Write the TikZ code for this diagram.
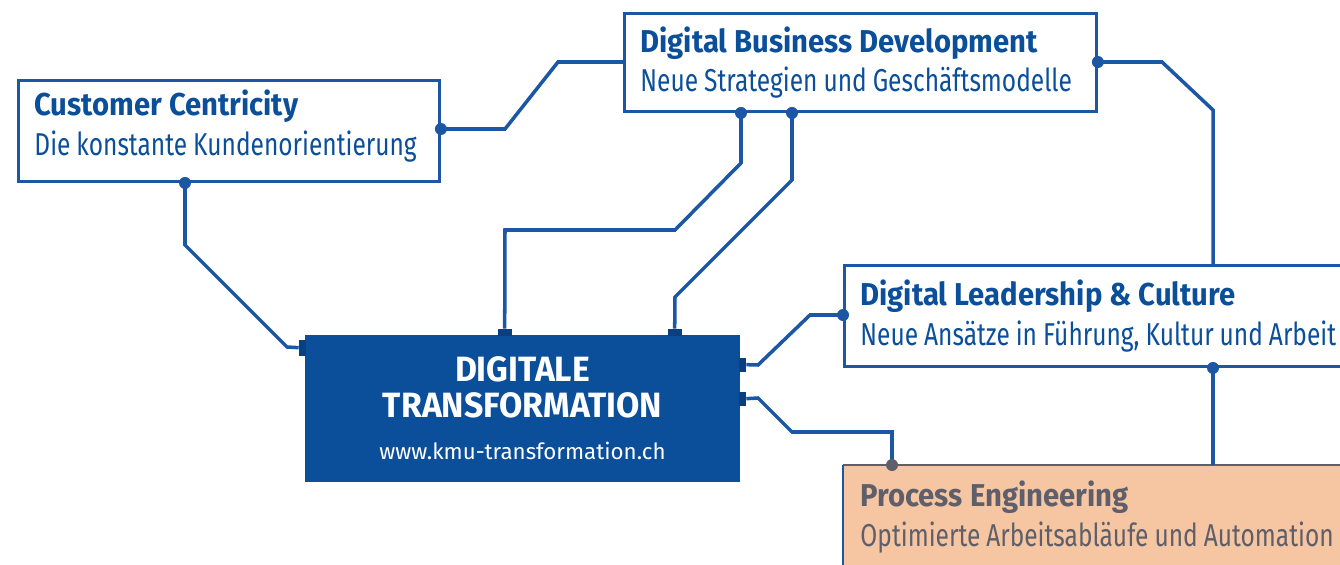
\documentclass[tikz,border=0pt]{standalone}
\usepackage{fontspec}
\setmainfont{Fira Sans}
\newfontfamily\headfont[FakeStretch=0.925]{Fira Sans}
\newfontfamily\subfont[FakeStretch=0.775]{Fira Sans}
\newfontfamily\corefont[FakeStretch=0.96]{Fira Sans}
\usetikzlibrary{calc,positioning}
\definecolor{kmublue}{HTML}{0B4F9A}
\definecolor{linkblue}{HTML}{1C57A5}
\definecolor{tabblue}{HTML}{0A3F80}
\definecolor{peach}{HTML}{F6C5A1}
\definecolor{slate}{HTML}{5E5F6B}
\newcommand{\cardhead}[1]{\mbox{\headfont\bfseries\spaceskip=4pt\relax #1}}
\newcommand{\cardsub}[1]{\mbox{\subfont\spaceskip=3.4pt\relax #1}}

\begin{document}
\begin{tikzpicture}[x=0.02cm,y=-0.02cm]
\tikzstyle{card}=[draw=linkblue, line width=1.7pt, fill=white, anchor=north west, align=left, inner xsep=0.32cm, inner ysep=0pt, text=kmublue, font=\fontsize{18}{22.7}\selectfont]
\tikzstyle{core}=[fill=kmublue, text=white, align=center, minimum width=8.7cm, minimum height=2.94cm, inner sep=0pt, font=\fontsize{20}{20.5}\selectfont]
\tikzstyle{link}=[draw=linkblue, line width=2pt]
\tikzstyle{dot}=[fill=linkblue]
\tikzstyle{tab}=[fill=tabblue]
\useasboundingbox (0,0) rectangle (1340,565);
\clip (0,0) rectangle (1340,565);
\node [card, minimum width=8.42cm, minimum height=2.02cm, text width=7.78cm] (cc) at (17,79)
  {\cardhead{Customer Centricity}\\\cardsub{Die konstante Kundenorientierung}\rule[-0.32cm]{0pt}{0.1cm}};
\node [card, minimum width=9.44cm, minimum height=1.96cm, text width=8.8cm] (dbd) at (623,12)
  {\cardhead{Digital Business Development}\\\cardsub{Neue Strategien und Gesch\"aftsmodelle}};
\node [card, minimum width=12cm, minimum height=2.02cm, text width=11.36cm] (dlc) at (843,264)
  {\cardhead{Digital Leadership \& Culture}\\\cardsub{Neue Ans\"atze in F\"uhrung, Kultur und Arbeit}};
\node [card, draw=none, fill=peach, text=slate, minimum width=12cm, minimum height=2.02cm, text width=11.36cm] (pe) at (843,465)
  {\cardhead{Process Engineering}\\\cardsub{Optimierte Arbeitsabl\"aufe und Automation}};
\draw [slate, line width=1.7pt] (pe.north west) -- (pe.north east);
\draw [linkblue, line width=1.2pt] (pe.north west) -- (pe.south west);
\node [core] (dtf) at (522.5,408.5)
  {{\corefont\bfseries DIGITALE}\\{\corefont\bfseries TRANSFORMATION}\\{\fontsize{12.7}{14}\selectfont\raisebox{-0.12cm}{www.kmu-transformation.ch}}};
\fill [tab] ($(dtf.north west)+(-6,5)$) rectangle ++(7,16);
\fill [tab] ($(dtf.north west)+(193,-6)$) rectangle ++(14,7);
\fill [tab] ($(dtf.north west)+(363,-6)$) rectangle ++(14,7);
\fill [tab] ($(dtf.north east)+(-1,23)$) rectangle ++(7,14);
\fill [tab] ($(dtf.north east)+(-1,57)$) rectangle ++(7,14);
\draw [link] ($(cc.south west)+(168,0)$) -- (185,245) -- (287,347) -- ($(dtf.north west)+(-6,13)$);
\draw [link] ($(cc.north east)+(0,50)$) -- (505,129) -- (558,62) -- ($(dbd.north west)+(0,50)$);
\draw [link] ($(dbd.south west)+(118,0)$) -- (741,163) -- (675,230) -- (505,230) -- ($(dtf.north west)+(200,-6)$);
\draw [link] ($(dbd.south west)+(169,0)$) -- (792,180) -- (675,297) -- ($(dtf.north west)+(370,-6)$);
\draw [link] ($(dbd.north east)+(0,50)$) -- (1162,62) -- (1213,110) -- (1213,264);
\draw [link] ($(dlc.north west)+(0,51)$) -- (810,315) -- (758,365) -- ($(dtf.north east)+(6,30)$);
\draw [link] ($(dtf.north east)+(6,64)$) -- (758,398) -- (792,432) -- (892,432) -- ($(pe.north west)+(49,0)$);
\draw [link] ($(dlc.south west)+(370,0)$) -- ($(pe.north west)+(370,0)$);
\fill [dot] ($(cc.south west)+(168,0)$) circle (6);
\fill [dot] ($(cc.north east)+(0,50)$) circle (6);
\fill [dot] ($(dbd.south west)+(118,0)$) circle (6);
\fill [dot] ($(dbd.south west)+(169,0)$) circle (6);
\fill [dot] ($(dbd.north east)+(0,50)$) circle (6);
\fill [dot] ($(dlc.north west)+(0,51)$) circle (6);
\fill [dot] ($(dlc.south west)+(370,0)$) circle (6);
\fill [slate] ($(pe.north west)+(49,0)$) circle (6);
\end{tikzpicture}
\end{document}
